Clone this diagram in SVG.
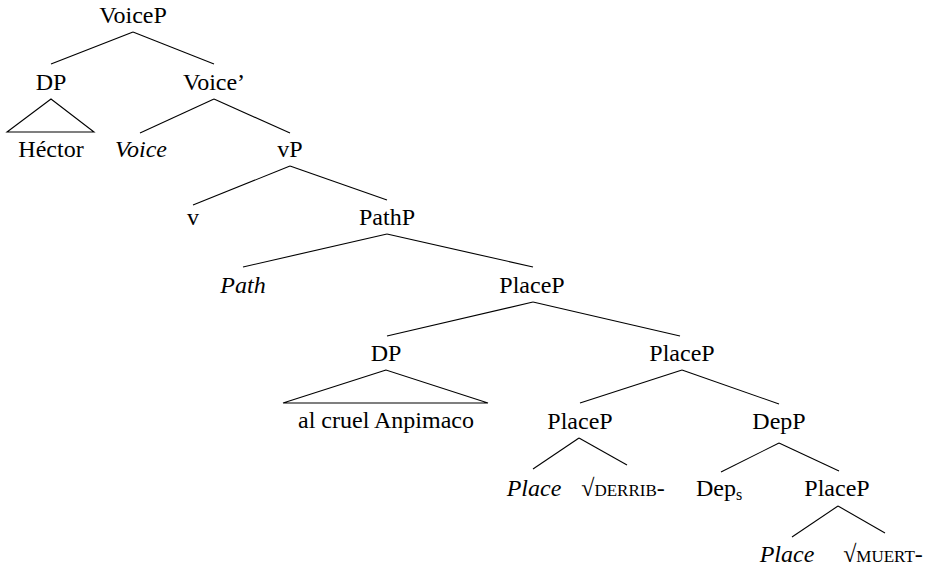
<svg xmlns="http://www.w3.org/2000/svg" width="935" height="569" viewBox="0 0 935 569">
<style>
text{font-family:"Liberation Serif","DejaVu Serif",serif;font-size:24px;fill:#000;text-anchor:middle}
.i{font-style:italic}
.sc{font-variant:small-caps}
.e line,.e polygon{stroke:#000;stroke-width:1.1;fill:none}
</style>
<rect width="935" height="569" fill="#fff"/>
<g id="connectors" class="e">
<line x1="133" y1="32" x2="51" y2="64"/>
<line x1="133" y1="32" x2="214" y2="64"/>
<polygon points="51,99 7,132 94,132"/>
<line x1="214" y1="99" x2="140" y2="133"/>
<line x1="214" y1="99" x2="290" y2="133"/>
<line x1="290" y1="166" x2="193" y2="205"/>
<line x1="290" y1="166" x2="387" y2="200"/>
<line x1="387" y1="234" x2="243" y2="267"/>
<line x1="387" y1="234" x2="533" y2="267"/>
<line x1="533" y1="302" x2="387" y2="336"/>
<line x1="533" y1="302" x2="680" y2="336"/>
<polygon points="386,370 283,403 488,403"/>
<line x1="682" y1="370" x2="580" y2="403"/>
<line x1="682" y1="370" x2="779" y2="404"/>
<line x1="579" y1="438" x2="533" y2="469"/>
<line x1="579" y1="438" x2="627" y2="465"/>
<line x1="779" y1="443" x2="721" y2="472"/>
<line x1="779" y1="443" x2="839" y2="471"/>
<line x1="838" y1="506" x2="792" y2="537"/>
<line x1="838" y1="506" x2="885" y2="533"/>
</g>
<g id="VoiceP"><text x="133" y="23">VoiceP</text></g>
<g id="DP1"><text x="51" y="90">DP</text></g>
<g id="Hector"><text x="51" y="157">Héctor</text></g>
<g id="VoiceBar"><text x="214" y="90">Voice’</text></g>
<g id="Voice"><text class="i" x="141" y="157">Voice</text></g>
<g id="vP"><text x="290" y="157">vP</text></g>
<g id="v"><text x="193" y="225">v</text></g>
<g id="PathP"><text x="387" y="225">PathP</text></g>
<g id="Path"><text class="i" x="243" y="293">Path</text></g>
<g id="PlaceP1"><text x="532" y="293">PlaceP</text></g>
<g id="DP2"><text x="386" y="361">DP</text></g>
<g id="Anpimaco"><text x="386" y="428">al cruel Anpimaco</text></g>
<g id="PlaceP2"><text x="682" y="361">PlaceP</text></g>
<g id="PlaceP3"><text x="580" y="429">PlaceP</text></g>
<g id="Place1"><text class="i" x="534" y="496">Place</text></g>
<g id="derrib"><text x="623" y="496">√<tspan class="sc">derrib-</tspan></text></g>
<g id="DepP"><text x="779" y="429">DepP</text></g>
<g id="Deps"><text x="719" y="496">Dep<tspan font-size="16" dy="4">s</tspan></text></g>
<g id="PlaceP4"><text x="837" y="496">PlaceP</text></g>
<g id="Place2"><text class="i" x="787" y="562">Place</text></g>
<g id="muert"><text x="883" y="562">√<tspan class="sc">muert-</tspan></text></g>
</svg>
